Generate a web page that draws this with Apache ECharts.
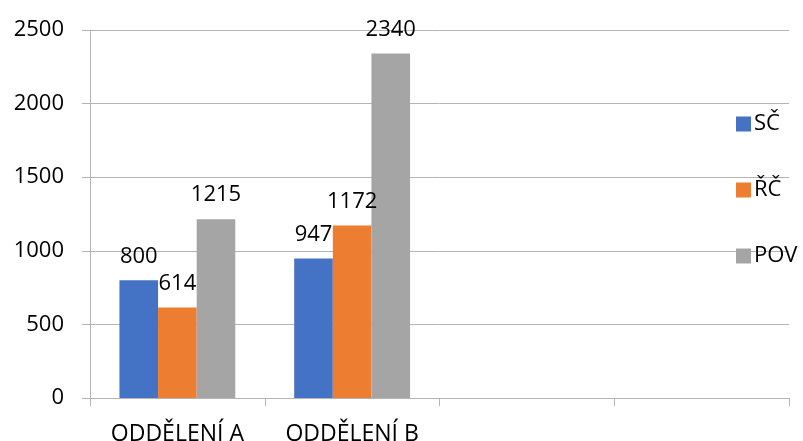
<!DOCTYPE html>
<html>
<head>
<meta charset="utf-8">
<script src="https://cdn.jsdelivr.net/npm/echarts@6/dist/echarts.min.js"></script>
<style>html,body{margin:0;padding:0;background:#fff}#c{width:803px;height:441px}</style>
</head>
<body>
<div id="c"></div>
<script>
const categories = ['ODDĚLENÍ A', 'ODDĚLENÍ B', '', ''];
const seriesNames = ['SČ', 'ŘČ', 'POV'];
const scValues = [800, 947, null, null];
const rcValues = [614, 1172, null, null];
const povValues = [1215, 2340, null, null];
const yTicks = [0, 500, 1000, 1500, 2000, 2500];

const colors = ['#4472C4', '#ED7D31', '#A5A5A5'];
const font = '"Open Sans", "Noto Sans", sans-serif';
const lineColor = '#B4B4B4';
const fs = 22;

const chart = echarts.init(document.getElementById('c'), null, {renderer: 'canvas'});
const mk = (name, data, i) => ({
  name, type: 'bar', data,
  itemStyle: {color: colors[i]},
  barGap: '0%', barCategoryGap: '33.7%',
  label: {show: true, position: 'top', distance: 13, color: '#000', fontFamily: font, fontSize: fs},
  animation: false
});
chart.setOption({
  animation: false,
  color: colors,
  grid: {left: 90, right: 14, top: 30, bottom: 43, containLabel: false, outerBoundsMode: 'none'},
  legend: {
    orient: 'vertical', left: 731, top: 108,
    itemWidth: 15, itemHeight: 15, itemGap: 44,
    icon: 'rect',
    textStyle: {fontFamily: font, fontSize: fs, color: '#000', padding: [0, 0, 0, -2]},
    data: seriesNames
  },
  xAxis: {
    type: 'category', data: categories,
    axisLine: {show: true, lineStyle: {color: lineColor, width: 1}},
    axisTick: {show: true, length: 8, alignWithLabel: false, lineStyle: {color: lineColor}},
    axisLabel: {fontFamily: font, fontSize: 23, color: '#000', margin: 25, interval: 0},
    splitLine: {show: false}
  },
  yAxis: {
    type: 'value', min: yTicks[0], max: yTicks[yTicks.length - 1], interval: 500,
    axisLine: {show: true, lineStyle: {color: lineColor, width: 1}},
    axisTick: {show: true, length: 8, lineStyle: {color: lineColor}},
    axisLabel: {fontFamily: font, fontSize: fs, color: '#000', margin: 26, formatter: v => String(v)},
    splitLine: {show: true, lineStyle: {color: lineColor, width: 1}}
  },
  series: [
    mk(seriesNames[0], scValues, 0),
    mk(seriesNames[1], rcValues, 1),
    mk(seriesNames[2], povValues, 2)
  ]
});
</script>
</body>
</html>
